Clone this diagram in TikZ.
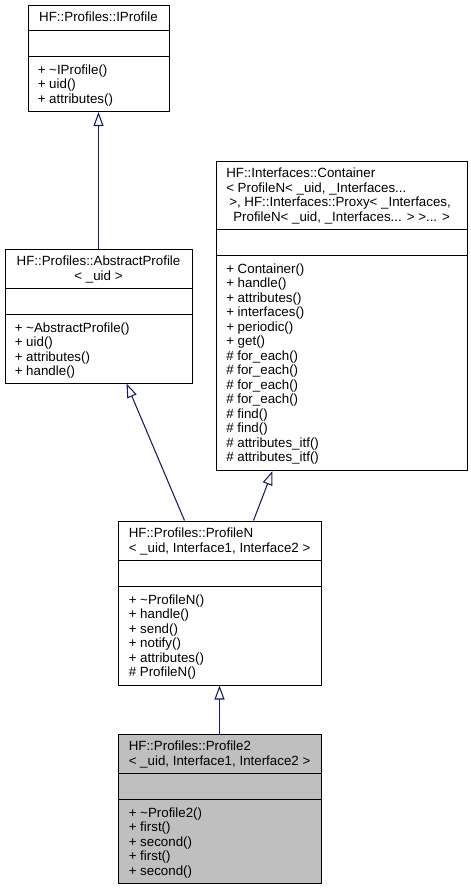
\documentclass[tikz,border=0pt]{standalone}
\usepackage{fontspec}
\setmainfont{Liberation Sans}
\usetikzlibrary{arrows.meta,fit,calc}
\definecolor{edgeblue}{HTML}{191970}
\definecolor{selgray}{HTML}{BFBFBF}
\begin{document}
\begin{tikzpicture}[x=0.75pt,y=-0.75pt,
  cbox/.style={draw=black, line width=0.75pt, inner sep=0pt},
  sepline/.style={draw=black, line width=0.75pt},
  txt/.style={anchor=base west, inner sep=0pt, font=\fontsize{10pt}{12pt}\selectfont},
  ctxt/.style={anchor=base, inner sep=0pt, font=\fontsize{10pt}{12pt}\selectfont},
  inh/.style={draw=edgeblue, line width=0.8pt, -{Triangle[open, length=10.5pt, width=7.5pt, fill=white]}}]
\useasboundingbox (0,0) rectangle (471,889);
\fill[white] (0,0) rectangle (471,889);

% ---------- IProfile
\node[cbox, fit={(28,5) (169,111.5)}] (ip) {};
\draw[sepline] (28,30.5) -- (169,30.5);
\draw[sepline] (28,56.5) -- (169,56.5);
\node[ctxt] (ipt) at (98.5,21.7) {HF::Profiles::IProfile};
\foreach [count=\k from 0] \m in {+ \textasciitilde IProfile(), + uid(), + attributes()}
  \node[txt] (ipm\k) at (37.5,74.2+14.5*\k) {\m};

% ---------- AbstractProfile
\node[cbox, fit={(5,249) (192,383)}] (ab) {};
\draw[sepline] (5,288.5) -- (192,288.5);
\draw[sepline] (5,314.5) -- (192,314.5);
\node[ctxt] (abt1) at (98.5,265.7) {HF::Profiles::AbstractProfile};
\node[ctxt] (abt2) at (98.5,280.2) {< \_uid >};
\foreach [count=\k from 0] \m in {+ \textasciitilde AbstractProfile(), + uid(), + attributes(), + handle()}
  \node[txt] (abm\k) at (14.5,332.2+14.5*\k) {\m};

% ---------- Container
\node[cbox, fit={(216.5,161) (467,470.5)}] (ct) {};
\draw[sepline] (216.5,229.5) -- (467,229.5);
\draw[sepline] (216.5,255.5) -- (467,255.5);
\node[txt] (ctt1) at (226,177.7) {HF::Interfaces::Container};
\node[txt] (ctt2) at (226,192.2) {< ProfileN< \_uid, \_Interfaces...};
\node[txt] (ctt3) at (229,206.7) {>, HF::Interfaces::Proxy< \_Interfaces,};
\node[txt] (ctt4) at (233,221.2) {ProfileN< \_uid, \_Interfaces... > >... >};
\foreach [count=\k from 0] \m in {+ Container(), + handle(), + attributes(), + interfaces(), + periodic(), + get(), \# for\_each(), \# for\_each(), \# for\_each(), \# for\_each(), \# find(), \# find(), \# attributes\_itf(), \# attributes\_itf()}
  \node[txt] (ctm\k) at (226,273.2+14.5*\k) {\m};

% ---------- ProfileN
\node[cbox, fit={(118,521) (321,685)}] (pn) {};
\draw[sepline] (118,560.5) -- (321,560.5);
\draw[sepline] (118,586.5) -- (321,586.5);
\node[txt] (pnt1) at (128.5,537.7) {HF::Profiles::ProfileN};
\node[txt] (pnt2) at (128.5,552.2) {< \_uid, Interface1, Interface2 >};
\foreach [count=\k from 0] \m in {+ \textasciitilde ProfileN(), + handle(), + send(), + notify(), + attributes(), \# ProfileN()}
  \node[txt] (pnm\k) at (128.5,604.2+14.5*\k) {\m};

% ---------- Profile2
\node[cbox, fill=selgray, fit={(118,734) (321,883.5)}] (p2) {};
\draw[sepline] (118,773.5) -- (321,773.5);
\draw[sepline] (118,799.5) -- (321,799.5);
\node[txt] (p2t1) at (128.5,750.7) {HF::Profiles::Profile2};
\node[txt] (p2t2) at (128.5,765.2) {< \_uid, Interface1, Interface2 >};
\foreach [count=\k from 0] \m in {+ \textasciitilde Profile2(), + first(), + second(), + first(), + second()}
  \node[txt] (p2m\k) at (128.5,817.2+14.5*\k) {\m};

% ---------- inheritance arrows
\draw[inh] (ab.north) -- (ip.south);
\draw[inh] ($(pn.north west)+(67,0)$) -- ($(ab.south west)+(122,0)$);
\draw[inh] ($(pn.north west)+(136,0)$) -- ($(ct.south west)+(56.5,0)$);
\draw[inh] (p2.north) -- (pn.south);
\end{tikzpicture}
\end{document}
